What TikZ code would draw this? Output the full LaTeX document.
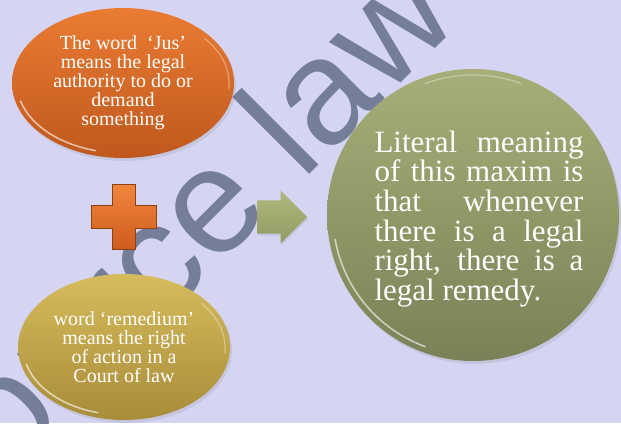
\documentclass[tikz,border=0pt]{standalone}
\usepackage{fontspec}
\setmainfont{Liberation Serif}
\newfontfamily\markfont{Liberation Sans}
\usepackage{tikz}
\usetikzlibrary{positioning,shapes.geometric,shapes.arrows,shadows,calc}
\definecolor{pagebg}{RGB}{213,213,243}
\definecolor{markgray}{RGB}{116,126,152}
\definecolor{jusorange}{RGB}{234,124,50}
\definecolor{jusdark}{RGB}{192,88,30}
\definecolor{remgold}{RGB}{214,188,92}
\definecolor{remdark}{RGB}{168,140,58}
\definecolor{maximgreen}{RGB}{168,174,120}
\definecolor{maximdark}{RGB}{122,129,86}
\definecolor{plusorange}{RGB}{242,134,60}
\definecolor{plusdark}{RGB}{204,92,30}
\definecolor{arrowgreen}{RGB}{176,184,126}
\definecolor{arrowdark}{RGB}{146,154,100}
\newcommand{\jline}[1]{\makebox[209pt][s]{#1}}

\begin{document}
\begin{tikzpicture}[x=1pt,y=1pt,
  bubble/.style={ellipse,inner sep=0pt,text=white,align=center,
                 font=\fontsize{20}{19}\selectfont,
                 drop shadow={opacity=.18,shadow xshift=2pt,shadow yshift=-3pt}},
  rim/.style={white,opacity=.6,line width=1.6pt,line cap=round},
  softrim/.style={white,opacity=.35,line width=1.2pt,line cap=round},
  watermark/.style={font=\markfont\fontsize{150}{150}\selectfont,
                    text=markgray,inner sep=0pt},
  arrowbox/.style={single arrow,single arrow head extend=10pt,
                   inner xsep=0pt,inner ysep=16.5pt,minimum height=50pt,
                   top color=arrowgreen,bottom color=arrowdark,
                   drop shadow={opacity=.18,shadow xshift=1pt,shadow yshift=-2pt}},
]
\fill[pagebg] (0,0) rectangle (621,423);
\useasboundingbox (0,0) rectangle (621,423);
\clip (0,0) rectangle (621,423);

% watermark behind everything
\node[watermark,rotate=45,anchor=base west] (mark) at (-63,-124) {Source law};

\node[bubble,minimum width=222pt,minimum height=150pt,
      top color=jusorange,bottom color=jusdark] (jus) at (123,340)
  {The word~~‘Jus’\\means the legal\\authority to do or\\demand\\something};
\node[bubble,minimum width=212pt,minimum height=146pt,
      top color=remgold,bottom color=remdark] (remedium) at (124,76)
  {word ‘remedium’\\means the right\\of action in a\\Court of law};
\node[circle,minimum size=292pt,inner sep=0pt,
      top color=maximgreen,bottom color=maximdark,
      drop shadow={opacity=.18,shadow xshift=2pt,shadow yshift=-3pt}] (maxim) at (473,208) {};
\node[text=white,align=left,inner sep=0pt,font=\fontsize{31}{29.7}\selectfont]
  (maximtext) at ([shift={(6,-4)}]maxim.center)
  {\jline{Literal meaning}\\\jline{of this maxim is}\\\jline{that whenever}\\
   \jline{there is a legal}\\\jline{right, there is a}\\legal remedy.};

\draw[rim] ($(jus.center)+(195:106 and 70)$) arc[start angle=195,end angle=255,x radius=106,y radius=70];
\draw[softrim] ($(jus.center)+(-5:106 and 70)$) arc[start angle=-5,end angle=40,x radius=106,y radius=70];
\draw[rim] ($(remedium.center)+(195:101 and 68)$) arc[start angle=195,end angle=255,x radius=101,y radius=68];
\draw[softrim] ($(remedium.center)+(-5:101 and 68)$) arc[start angle=-5,end angle=40,x radius=101,y radius=68];
\draw[rim] ($(maxim.center)+(190:140)$) arc[start angle=190,end angle=250,radius=140];
\draw[softrim] ($(maxim.center)+(70:140)$) arc[start angle=70,end angle=110,radius=140];

% plus sign
\coordinate (plus) at (124,206);
\begin{scope}[shift={(plus)}]
\shade[top color=plusorange,bottom color=plusdark,draw=plusdark!70!black,line width=.4pt]
  (-11.5,32.5) -- (11.5,32.5) -- (11.5,11.5) -- (32.5,11.5) -- (32.5,-11.5) -- (11.5,-11.5)
  -- (11.5,-32.5) -- (-11.5,-32.5) -- (-11.5,-11.5) -- (-32.5,-11.5) -- (-32.5,11.5) -- (-11.5,11.5) -- cycle;
\end{scope}

\node[arrowbox,right=133pt of plus] (arrow) {};
\end{tikzpicture}
\end{document}
